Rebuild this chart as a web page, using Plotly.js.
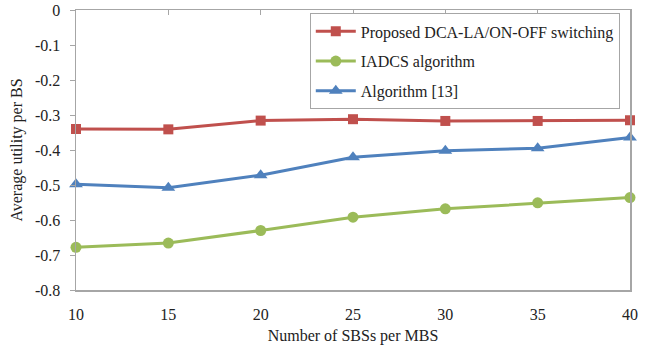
<!DOCTYPE html>
<html>
<head>
<meta charset="utf-8">
<script src="https://cdn.plot.ly/plotly-3.0.1.min.js"></script>
<style>
  html, body { margin: 0; padding: 0; background: #ffffff; }
  #chart { width: 660px; height: 354px; }
</style>
</head>
<body>
<div id="chart"></div>
<script>
// Number of small base stations per macro base station
const sbsCounts = [10, 15, 20, 25, 30, 35, 40];

// Average utility per BS for each scheme
const proposedUtility = [-0.340, -0.341, -0.316, -0.312, -0.317, -0.317, -0.315];
const iadcsUtility    = [-0.678, -0.666, -0.630, -0.592, -0.568, -0.551, -0.536];
const algo13Utility   = [-0.498, -0.508, -0.472, -0.421, -0.402, -0.395, -0.364];

const seriesNames = ['Proposed DCA-LA/ON-OFF switching', 'IADCS algorithm', 'Algorithm [13]'];

const yTickVals = [0, -0.1, -0.2, -0.3, -0.4, -0.5, -0.6, -0.7, -0.8];
const yTickText = ['0', '-0.1', '-0.2', '-0.3', '-0.4', '-0.5', '-0.6', '-0.7', '-0.8'];

const axisGray = '#a6a6a6';
const serif = '"Liberation Serif", "Times New Roman", Times, serif';

function series(name, y, color, symbol, size, group) {
  return {
    x: sbsCounts, y: y, name: name, type: 'scatter', mode: 'lines+markers',
    legendgroup: group,
    line: { color: color, width: 3 },
    marker: { color: color, symbol: symbol, size: size },
    cliponaxis: false
  };
}

const traces = [
  series(seriesNames[0], proposedUtility, '#c0504d', 'square', 10, 'a'),
  series(seriesNames[1], iadcsUtility, '#9bbb59', 'circle', 11, 'b'),
  series(seriesNames[2], algo13Utility, '#4f81bd', 'triangle-up', 12, 'c'),
  // top axis carrying the inward category ticks
  { x: sbsCounts, y: proposedUtility, xaxis: 'x2', type: 'scatter', mode: 'none',
    showlegend: false, hoverinfo: 'skip' }
];

const layout = {
  width: 660, height: 354,
  margin: { l: 75.5, r: 30, t: 9.5, b: 63.5 },
  paper_bgcolor: '#ffffff', plot_bgcolor: '#ffffff',
  font: { family: serif, color: '#222222', size: 16 },
  showlegend: true,
  legend: {
    x: 0.422, y: 0.988, xanchor: 'left', yanchor: 'top',
    bgcolor: '#ffffff', bordercolor: axisGray, borderwidth: 1,
    font: { family: serif, size: 16, color: '#222222' },
    tracegroupgap: 6, itemwidth: 40
  },
  xaxis: {
    range: [10, 40], tickvals: sbsCounts, ticktext: sbsCounts.map(String),
    showgrid: false, zeroline: false,
    showline: true, linecolor: axisGray, linewidth: 1.5, mirror: true,
    ticks: '', ticklabelstandoff: 9,
    tickfont: { family: serif, size: 16, color: '#222222' },
    title: { text: 'Number of SBSs per MBS', font: { family: serif, size: 16, color: '#222222' }, standoff: 8 }
  },
  xaxis2: {
    range: [10, 40], overlaying: 'x', side: 'top', anchor: 'y',
    tickvals: sbsCounts, showticklabels: false, showgrid: false, zeroline: false,
    showline: false, ticks: 'inside', ticklen: 5, tickcolor: axisGray, tickwidth: 1
  },
  yaxis: {
    range: [-0.8, 0], tickvals: yTickVals, ticktext: yTickText,
    showgrid: false, zeroline: false,
    showline: true, linecolor: axisGray, linewidth: 1.5, mirror: true,
    ticks: 'outside', ticklen: 5, tickcolor: axisGray, tickwidth: 1,
    ticklabelstandoff: 6,
    tickfont: { family: serif, size: 16, color: '#222222' },
    title: { text: 'Average utility per BS', font: { family: serif, size: 16, color: '#222222' }, standoff: 8 }
  }
};

Plotly.newPlot('chart', traces, layout, { staticPlot: true, displayModeBar: false });
</script>
</body>
</html>
